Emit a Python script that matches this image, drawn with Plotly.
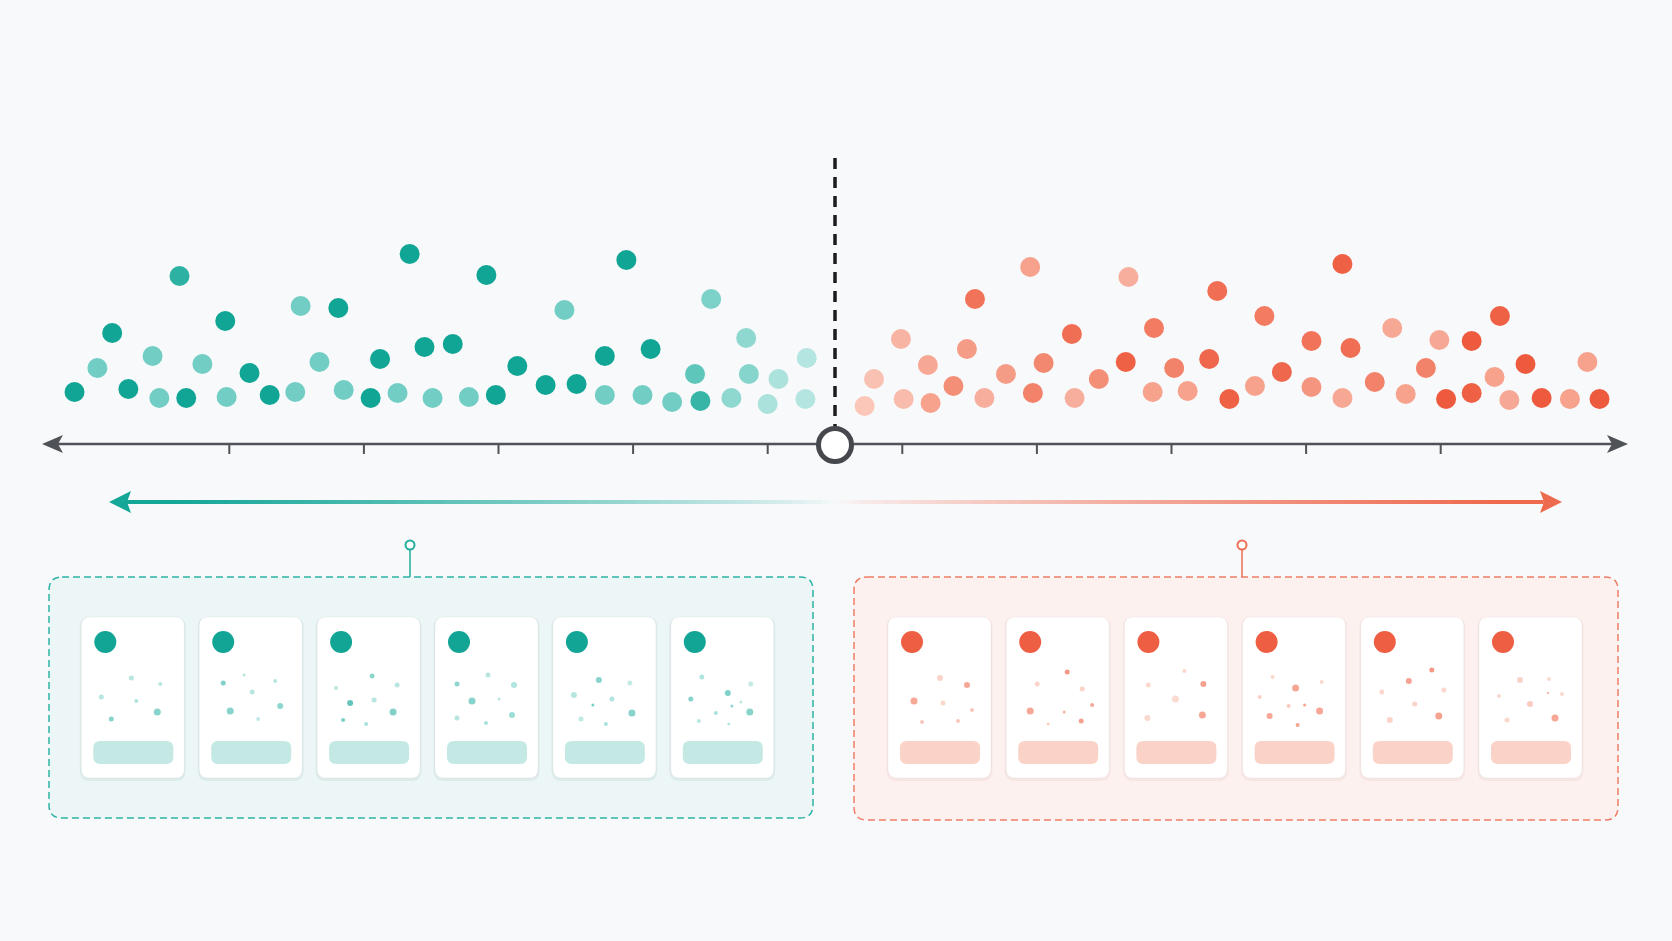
import plotly.graph_objects as go

# ---------------- DATA ----------------
# main scatter: position along the axis (tick units, 0 = centre) and height above axis
teal_x = [-5.65, -5.48, -5.37, -5.25, -5.07, -5.02, -4.87, -4.82, -4.70, -4.53, -4.52, -4.35,
          -4.20, -4.01, -3.97, -3.83, -3.69, -3.65, -3.45, -3.38, -3.25, -3.16, -3.05, -2.99,
          -2.84, -2.72, -2.59, -2.52, -2.36, -2.15, -2.01, -1.92, -1.71, -1.71, -1.55, -1.43,
          -1.37, -1.21, -1.04, -1.00, -0.92, -0.77, -0.66, -0.64, -0.50, -0.42, -0.21, -0.22]
teal_h = [5.2, 7.6, 11.1, 5.5, 8.8, 4.6, 16.8, 4.6, 8.0, 12.3, 4.7, 7.1,
          4.9, 5.2, 13.8, 8.2, 13.6, 5.4, 4.6, 8.5, 5.1, 19.0, 9.7, 4.6,
          10.0, 4.7, 16.9, 4.9, 7.8, 5.9, 13.4, 6.0, 8.8, 4.9, 18.4, 4.9,
          9.5, 4.2, 7.0, 4.3, 14.5, 4.6, 10.6, 7.0, 4.0, 6.5, 8.6, 4.5]
teal_shade = [1.0, 0.5, 1.0, 1.0, 0.5, 0.5, 0.85, 1.0, 0.5, 1.0, 0.5, 1.0,
              1.0, 0.5, 0.5, 0.5, 1.0, 0.5, 1.0, 1.0, 0.5, 1.0, 1.0, 0.5,
              1.0, 0.5, 1.0, 1.0, 1.0, 1.0, 0.5, 1.0, 1.0, 0.5, 1.0, 0.5,
              1.0, 0.5, 0.6, 0.8, 0.45, 0.35, 0.35, 0.4, 0.2, 0.2, 0.15, 0.15]

coral_x = [0.22, 0.29, 0.49, 0.51, 0.69, 0.71, 0.88, 0.98, 1.04, 1.11, 1.27, 1.45, 1.47,
           1.55, 1.76, 1.78, 1.96, 2.16, 2.18, 2.36, 2.37, 2.52, 2.62, 2.78, 2.84, 2.93,
           3.12, 3.19, 3.32, 3.54, 3.54, 3.77, 3.77, 3.83, 4.01, 4.14, 4.24, 4.39, 4.49,
           4.54, 4.73, 4.73, 4.90, 4.94, 5.01, 5.13, 5.25, 5.46, 5.59, 5.68]
coral_h = [3.8, 6.5, 10.5, 4.5, 7.9, 4.1, 5.8, 9.5, 14.5, 4.6, 7.0, 17.7, 5.1,
           8.1, 11.0, 4.6, 6.5, 8.2, 16.7, 5.2, 11.6, 7.6, 5.3, 8.5, 15.3, 4.5,
           5.8, 12.8, 7.2, 10.3, 5.7, 4.6, 18.0, 9.6, 6.2, 11.6, 5.0, 7.6, 10.4,
           4.5, 10.3, 5.1, 6.7, 12.8, 4.4, 8.0, 4.6, 4.5, 8.2, 4.5]
coral_shade = [0.15, 0.2, 0.3, 0.25, 0.4, 0.45, 0.6, 0.5, 0.8, 0.35, 0.5, 0.45, 0.7,
               0.65, 0.85, 0.35, 0.6, 0.95, 0.35, 0.45, 0.75, 0.7, 0.45, 0.9, 0.85, 0.95,
               0.45, 0.75, 0.9, 0.8, 0.55, 0.4, 0.95, 0.85, 0.7, 0.4, 0.45, 0.7, 0.4,
               1.0, 1.0, 0.95, 0.45, 0.95, 0.4, 1.0, 1.0, 0.45, 0.45, 1.0]

axis_ticks = [-4.5, -3.5, -2.5, -1.5, -0.5, 0.5, 1.5, 2.5, 3.5, 4.5]

# mini-card scatter contents: (dx, dy, size, shade) per card
teal_cards = [
    [(50, 61, 5, 0.3), (79, 67, 4, 0.3), (20, 80, 5, 0.3), (55, 84, 4, 0.35), (76, 95, 7, 0.65), (30, 102, 5, 0.65)],
    [(24, 66, 5, 0.7), (45, 58, 3, 0.3), (76, 64, 4, 0.3), (53, 75, 5, 0.3), (81, 89, 6, 0.6), (31, 94, 7, 0.65), (59, 102, 4, 0.25)],
    [(55, 59, 5, 0.6), (19, 71, 4, 0.3), (80, 68, 5, 0.3), (33, 86, 6, 0.9), (57, 83, 5, 0.3), (76, 95, 7, 0.7), (26, 103, 4, 0.75), (49, 107, 4, 0.4)],
    [(22, 67, 5, 0.6), (53, 58, 5, 0.3), (79, 68, 6, 0.35), (37, 84, 7, 0.65), (64, 82, 3, 0.3), (22, 101, 5, 0.3), (51, 106, 4, 0.4), (77, 98, 6, 0.5)],
    [(46, 63, 6, 0.65), (77, 66, 5, 0.2), (21, 78, 6, 0.3), (59, 82, 5, 0.35), (40, 88, 3, 0.75), (79, 96, 7, 0.65), (28, 102, 5, 0.25), (53, 107, 4, 0.4)],
    [(31, 60, 5, 0.35), (80, 67, 5, 0.2), (57, 76, 6, 0.7), (20, 82, 5, 0.65), (70, 85, 3, 0.25), (61, 89, 3, 0.6), (79, 95, 7, 0.65), (45, 96, 4, 0.4), (28, 104, 4, 0.3), (58, 107, 3, 0.3)],
]
coral_cards = [
    [(52, 61, 6, 0.2), (79, 68, 6, 0.7), (26, 84, 7, 0.7), (55, 86, 5, 0.15), (84, 93, 4, 0.35), (34, 105, 4, 0.35), (70, 104, 4, 0.35)],
    [(61, 55, 5, 0.85), (31, 67, 5, 0.2), (76, 72, 5, 0.2), (86, 88, 4, 0.7), (24, 94, 7, 0.7), (58, 95, 3, 0.6), (75, 104, 5, 0.75), (42, 107, 3, 0.3)],
    [(60, 54, 4, 0.15), (24, 68, 5, 0.15), (79, 67, 6, 0.75), (51, 82, 7, 0.12), (78, 98, 7, 0.7), (23, 101, 6, 0.15)],
    [(30, 60, 4, 0.15), (79, 65, 4, 0.15), (53, 71, 7, 0.7), (17, 80, 4, 0.25), (46, 89, 4, 0.3), (62, 88, 3, 0.75), (77, 94, 7, 0.7), (27, 99, 6, 0.7), (55, 108, 4, 0.75)],
    [(71, 53, 5, 0.85), (48, 64, 6, 0.75), (21, 75, 5, 0.15), (83, 73, 5, 0.15), (54, 87, 5, 0.2), (78, 99, 7, 0.75), (29, 103, 6, 0.2)],
    [(41, 63, 6, 0.2), (70, 62, 4, 0.12), (20, 79, 4, 0.12), (69, 76, 2, 0.8), (83, 77, 4, 0.12), (51, 87, 6, 0.3), (76, 101, 7, 0.7), (28, 103, 5, 0.15)],
]

# ---------------- STYLE / LAYOUT CONSTANTS ----------------
W, H = 1672, 941
X0, XS = 835.0, 134.6   # axis centre pixel, pixels per tick unit
Y0, YS = 444.0, 10.0    # axis baseline pixel, pixels per height unit
BG = "#F8F9FB"
TEAL_SCALE = [[0, "#D2EFEC"], [0.5, "#72CEC4"], [1, "#10A594"]]
CORAL_SCALE = [[0, "#FCD9CF"], [0.5, "#F59C86"], [1, "#EE5A3D"]]
AXIS_COL = "#4F5257"


def X(px):
    return (px - X0) / XS


def Y(py):
    return (Y0 - py) / YS


def rrect(x0, y0, x1, y1, r):
    p = [
        f"M{X(x0 + r)},{Y(y0)}", f"L{X(x1 - r)},{Y(y0)}", f"Q{X(x1)},{Y(y0)} {X(x1)},{Y(y0 + r)}",
        f"L{X(x1)},{Y(y1 - r)}", f"Q{X(x1)},{Y(y1)} {X(x1 - r)},{Y(y1)}",
        f"L{X(x0 + r)},{Y(y1)}", f"Q{X(x0)},{Y(y1)} {X(x0)},{Y(y1 - r)}",
        f"L{X(x0)},{Y(y0 + r)}", f"Q{X(x0)},{Y(y0)} {X(x0 + r)},{Y(y0)}", "Z",
    ]
    return " ".join(p)


def poly(pts):
    return "M" + " L".join(f"{X(a)},{Y(b)}" for a, b in pts) + " Z"


def mix(c1, c2, t):
    a = [int(c1[i:i + 2], 16) for i in (1, 3, 5)]
    b = [int(c2[i:i + 2], 16) for i in (1, 3, 5)]
    return "rgb(%d,%d,%d)" % tuple(round(a[k] + (b[k] - a[k]) * t) for k in range(3))


shapes = []

# panels
shapes.append(dict(type="path", path=rrect(49, 577, 813, 818, 13), fillcolor="#ECF6F6",
                   line=dict(color="#2DB3A5", width=1.5, dash="7px,4px"), layer="below"))
shapes.append(dict(type="path", path=rrect(854, 577, 1618, 820, 13), fillcolor="#FDF1EF",
                   line=dict(color="#EE7D67", width=1.5, dash="7px,4px"), layer="below"))

# pins
for px, col in ((410, "#23AE9F"), (1242, "#EE6E56")):
    shapes.append(dict(type="line", x0=X(px), x1=X(px), y0=Y(550), y1=Y(577),
                       line=dict(color=col, width=1.5), layer="below"))

# cards
CARD_W, CARD_TOP, CARD_BOT = 103, 617, 778
teal_left = [81.3 + i * 117.9 for i in range(6)]
coral_left = [888.0 + i * 118.2 for i in range(6)]
for lefts, shadow, bar in ((teal_left, "rgba(0,70,70,0.06)", "#C4E9E5"),
                           (coral_left, "rgba(140,50,30,0.05)", "#FBD2C7")):
    for L in lefts:
        shapes.append(dict(type="path", path=rrect(L - 1.5, CARD_TOP, L + CARD_W + 1.5, CARD_BOT + 3, 10),
                           fillcolor=shadow, line=dict(width=0), layer="below"))
        shapes.append(dict(type="path", path=rrect(L, CARD_TOP, L + CARD_W, CARD_BOT, 9),
                           fillcolor="#FFFFFF", line=dict(color="rgba(0,0,0,0.04)", width=1), layer="below"))
        shapes.append(dict(type="path", path=rrect(L + 12, CARD_TOP + 124, L + 92, CARD_TOP + 147, 7),
                           fillcolor=bar, line=dict(width=0), layer="below"))

# gradient arrow
teal_c, coral_c = "#14A697", "#EE6A4F"
seg = 6
start, end = 126, 835
n = int((end - start) / seg)
for i in range(n):
    a = start + i * seg
    b = a + seg + 0.8
    t = 1 - (i + 0.5) / n
    shapes.append(dict(type="line", x0=X(a), x1=X(min(b, end)), y0=Y(502), y1=Y(502),
                       line=dict(color=mix(BG, teal_c, min(1, t ** 0.75 * 1.05)), width=4), layer="below"))
start, end = 835, 1545
for i in range(n):
    a = start + i * seg
    b = a + seg + 0.8
    t = (i + 0.5) / n
    shapes.append(dict(type="line", x0=X(a), x1=X(min(b, end)), y0=Y(502), y1=Y(502),
                       line=dict(color=mix(BG, coral_c, min(1, t ** 0.75 * 1.05)), width=4), layer="below"))
shapes.append(dict(type="path", path=poly([(109, 502), (131, 491), (127, 502), (131, 513)]),
                   fillcolor=teal_c, line=dict(width=0), layer="below"))
shapes.append(dict(type="path", path=poly([(1562, 502), (1540, 491), (1544, 502), (1540, 513)]),
                   fillcolor=coral_c, line=dict(width=0), layer="below"))

# main axis
shapes.append(dict(type="line", x0=X(56), x1=X(1614), y0=0, y1=0,
                   line=dict(color=AXIS_COL, width=2.5), layer="below"))
shapes.append(dict(type="path", path=poly([(42, 444), (63, 435), (58, 444), (63, 453)]),
                   fillcolor=AXIS_COL, line=dict(width=0), layer="below"))
shapes.append(dict(type="path", path=poly([(1628, 444), (1607, 435), (1612, 444), (1607, 453)]),
                   fillcolor=AXIS_COL, line=dict(width=0), layer="below"))
for t in axis_ticks:
    shapes.append(dict(type="line", x0=t, x1=t, y0=0, y1=-1.0,
                       line=dict(color=AXIS_COL, width=2), layer="below"))

# centre dashed divider
shapes.append(dict(type="line", x0=0, x1=0, y0=Y(158), y1=Y(427),
                   line=dict(color="#1C1C1E", width=3.5, dash="11px,8px"), layer="below"))

fig = go.Figure()

fig.add_trace(go.Scatter(x=teal_x, y=teal_h, mode="markers", hoverinfo="skip",
                         marker=dict(size=20, color=teal_shade, colorscale=TEAL_SCALE, cmin=0, cmax=1,
                                     line=dict(width=0))))
fig.add_trace(go.Scatter(x=coral_x, y=coral_h, mode="markers", hoverinfo="skip",
                         marker=dict(size=20, color=coral_shade, colorscale=CORAL_SCALE, cmin=0, cmax=1,
                                     line=dict(width=0))))

# centre ring
fig.add_trace(go.Scatter(x=[0], y=[Y(445)], mode="markers", hoverinfo="skip",
                         marker=dict(size=33, color="#FFFFFF", line=dict(color="#45484D", width=5))))

# pin heads
fig.add_trace(go.Scatter(x=[X(410)], y=[Y(545)], mode="markers", hoverinfo="skip",
                         marker=dict(size=9, color="#FFFFFF", line=dict(color="#23AE9F", width=2))))
fig.add_trace(go.Scatter(x=[X(1242)], y=[Y(545)], mode="markers", hoverinfo="skip",
                         marker=dict(size=9, color="#FFFFFF", line=dict(color="#EE6E56", width=2))))

# card contents
for lefts, cards, scale, big in ((teal_left, teal_cards, TEAL_SCALE, "#12A595"),
                                 (coral_left, coral_cards, CORAL_SCALE, "#EE5E42")):
    xs, ys, ss, cs = [], [], [], []
    for L, dots in zip(lefts, cards):
        for dx, dy, s, sh in dots:
            xs.append(X(L + dx)); ys.append(Y(CARD_TOP + dy)); ss.append(s); cs.append(sh)
    fig.add_trace(go.Scatter(x=xs, y=ys, mode="markers", hoverinfo="skip",
                             marker=dict(size=ss, color=cs, colorscale=scale, cmin=0, cmax=1,
                                         line=dict(width=0))))
    fig.add_trace(go.Scatter(x=[X(L + 24) for L in lefts], y=[Y(CARD_TOP + 25)] * len(lefts),
                             mode="markers", hoverinfo="skip",
                             marker=dict(size=22, color=big, line=dict(width=0))))

fig.update_layout(
    width=W, height=H, margin=dict(l=0, r=0, t=0, b=0),
    paper_bgcolor=BG, plot_bgcolor=BG, showlegend=False,
    shapes=shapes,
    xaxis=dict(range=[X(0), X(W)], visible=False, fixedrange=True),
    yaxis=dict(range=[Y(H), Y(0)], visible=False, fixedrange=True),
)

fig.write_html("out.html", config={"displayModeBar": False})
